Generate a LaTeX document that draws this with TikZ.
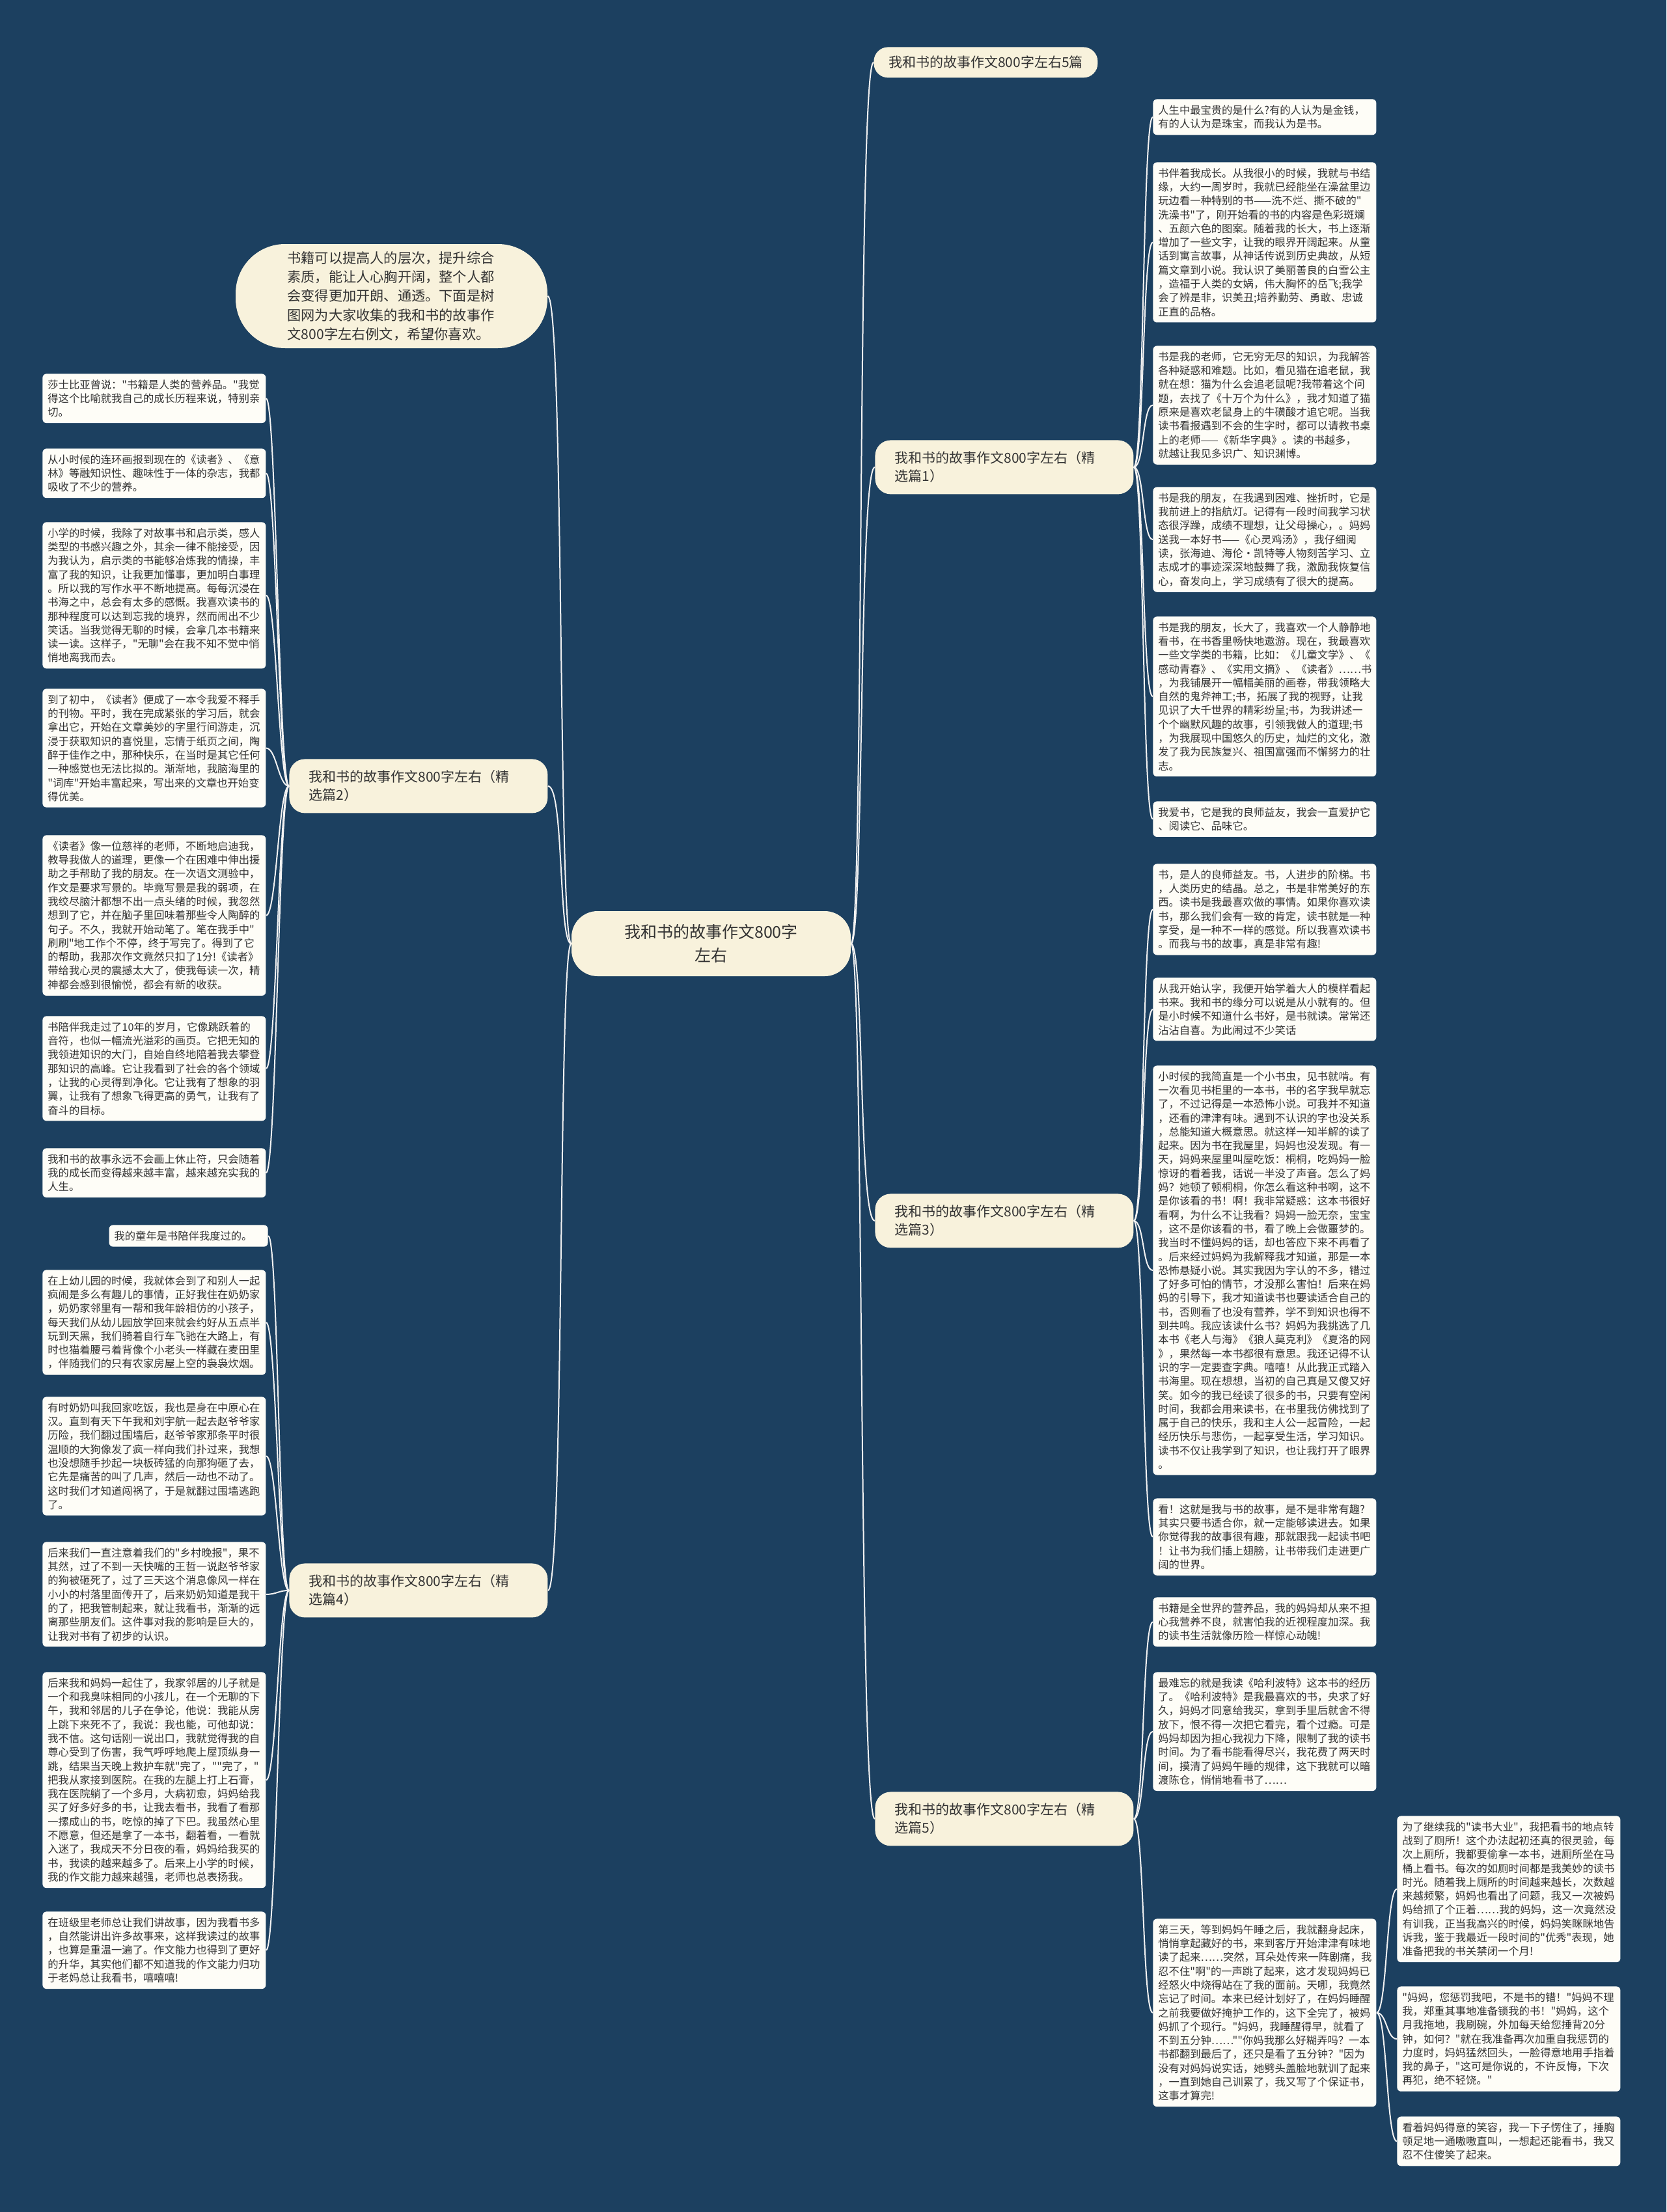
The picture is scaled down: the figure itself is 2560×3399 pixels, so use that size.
\documentclass[tikz,border=0pt]{standalone}
\usepackage{fontspec}
\newfontfamily\cjk{Noto Sans CJK SC}
\definecolor{bg}{HTML}{1C4060}
\definecolor{leafc}{HTML}{FEFDF7}
\definecolor{titlec}{HTML}{F8F2DC}
\definecolor{txt}{HTML}{333333}
\definecolor{linec}{HTML}{F2F2F2}
\tikzset{
  leaf/.style={fill=leafc, rounded corners=3pt, anchor=north west, text width=163.5pt,
    inner xsep=4pt, inner ysep=4.5pt, align=left, text=txt,
    font=\cjk\fontsize{8.15pt}{10.65pt}\selectfont},
  ttl/.style={fill=titlec, rounded corners=12pt, anchor=north west, text width=168.5pt,
    inner xsep=15pt, minimum height=41.5pt, align=left, text=txt,
    font=\cjk\fontsize{10.5pt}{14pt}\selectfont},
  conn/.style={draw=linec, line width=1pt},
}
\begin{document}
\begin{tikzpicture}[x=0.5pt,y=-0.5pt]
\fill[bg] (0,0) rectangle (2560,3399);
\useasboundingbox (0,0) rectangle (2560,3399);

% root, intro, titles
\node[fill=titlec, rounded corners=20pt, minimum width=214.5pt, minimum height=50pt, align=center,
  text=txt, font=\cjk\fontsize{12.5pt}{18.4pt}\selectfont] (root) at (1092.5,1450)
  {我和书的故事作文800字\\左右};
\node[fill=titlec, rounded corners=38pt, text width=160pt, inner xsep=39.75pt, minimum height=80pt,
  align=left, text=txt, font=\cjk\fontsize{10.6pt}{14.6pt}\selectfont] (intro) at (601.5,455)
  {书籍可以提高人的层次，提升综合\\素质，能让人心胸开阔，整个人都\\会变得更加开朗、通透。下面是树\\图网为大家收集的我和书的故事作\\文800字左右例文，希望你喜欢。};
\node[fill=titlec, rounded corners=11pt, anchor=north west, minimum width=172pt, minimum height=23.5pt,
  inner xsep=6pt, text=txt, font=\cjk\fontsize{10.5pt}{14pt}\selectfont] (t0) at (1342,72)
  {我和书的故事作文800字左右5篇};
\node[ttl] (t1) at (1344,676) {我和书的故事作文800字左右（精\\选篇1）};
\node[ttl] (t2) at (444,1166) {我和书的故事作文800字左右（精\\选篇2）};
\node[ttl] (t3) at (1344,1834) {我和书的故事作文800字左右（精\\选篇3）};
\node[ttl] (t4) at (444,2402) {我和书的故事作文800字左右（精\\选篇4）};
\node[ttl] (t5) at (1344,2753) {我和书的故事作文800字左右（精\\选篇5）};

% section 1 leaves
\node[leaf] (r1a) at (1771,152) {人生中最宝贵的是什么?有的人认为是金钱，\\有的人认为是珠宝，而我认为是书。};
\node[leaf] (r1b) at (1771,249) {书伴着我成长。从我很小的时候，我就与书结\\缘，大约一周岁时，我就已经能坐在澡盆里边\\玩边看一种特别的书——洗不烂、撕不破的"\\洗澡书"了，刚开始看的书的内容是色彩斑斓\\、五颜六色的图案。随着我的长大，书上逐渐\\增加了一些文字，让我的眼界开阔起来。从童\\话到寓言故事，从神话传说到历史典故，从短\\篇文章到小说。我认识了美丽善良的白雪公主\\，造福于人类的女娲，伟大胸怀的岳飞;我学\\会了辨是非，识美丑;培养勤劳、勇敢、忠诚\\正直的品格。};
\node[leaf] (r1c) at (1771,531) {书是我的老师，它无穷无尽的知识，为我解答\\各种疑惑和难题。比如，看见猫在追老鼠，我\\就在想：猫为什么会追老鼠呢?我带着这个问\\题，去找了《十万个为什么》，我才知道了猫\\原来是喜欢老鼠身上的牛磺酸才追它呢。当我\\读书看报遇到不会的生字时，都可以请教书桌\\上的老师——《新华字典》。读的书越多，\\就越让我见多识广、知识渊博。};
\node[leaf] (r1d) at (1771,748) {书是我的朋友，在我遇到困难、挫折时，它是\\我前进上的指航灯。记得有一段时间我学习状\\态很浮躁，成绩不理想，让父母操心，。妈妈\\送我一本好书——《心灵鸡汤》，我仔细阅\\读，张海迪、海伦·凯特等人物刻苦学习、立\\志成才的事迹深深地鼓舞了我，激励我恢复信\\心，奋发向上，学习成绩有了很大的提高。};
\node[leaf] (r1e) at (1771,947) {书是我的朋友，长大了，我喜欢一个人静静地\\看书，在书香里畅快地遨游。现在，我最喜欢\\一些文学类的书籍，比如：《儿童文学》、《\\感动青春》、《实用文摘》、《读者》……书\\，为我铺展开一幅幅美丽的画卷，带我领略大\\自然的鬼斧神工;书，拓展了我的视野，让我\\见识了大千世界的精彩纷呈;书，为我讲述一\\个个幽默风趣的故事，引领我做人的道理;书\\，为我展现中国悠久的历史，灿烂的文化，激\\发了我为民族复兴、祖国富强而不懈努力的壮\\志。};
\node[leaf] (r1f) at (1771,1231) {我爱书，它是我的良师益友，我会一直爱护它\\、阅读它、品味它。};

% section 3 leaves
\node[leaf] (r3a) at (1771,1327) {书，是人的良师益友。书，人进步的阶梯。书\\，人类历史的结晶。总之，书是非常美好的东\\西。读书是我最喜欢做的事情。如果你喜欢读\\书，那么我们会有一致的肯定，读书就是一种\\享受，是一种不一样的感觉。所以我喜欢读书\\。而我与书的故事，真是非常有趣!};
\node[leaf] (r3b) at (1771,1502) {从我开始认字，我便开始学着大人的模样看起\\书来。我和书的缘分可以说是从小就有的。但\\是小时候不知道什么书好，是书就读。常常还\\沾沾自喜。为此闹过不少笑话};
\node[leaf] (r3c) at (1771,1637) {小时候的我简直是一个小书虫，见书就啃。有\\一次看见书柜里的一本书，书的名字我早就忘\\了，不过记得是一本恐怖小说。可我并不知道\\，还看的津津有味。遇到不认识的字也没关系\\，总能知道大概意思。就这样一知半解的读了\\起来。因为书在我屋里，妈妈也没发现。有一\\天，妈妈来屋里叫屋吃饭：桐桐，吃妈妈一脸\\惊讶的看着我，话说一半没了声音。怎么了妈\\妈？她顿了顿桐桐，你怎么看这种书啊，这不\\是你该看的书！啊！我非常疑惑：这本书很好\\看啊，为什么不让我看？妈妈一脸无奈，宝宝\\，这不是你该看的书，看了晚上会做噩梦的。\\我当时不懂妈妈的话，却也答应下来不再看了\\。后来经过妈妈为我解释我才知道，那是一本\\恐怖悬疑小说。其实我因为字认的不多，错过\\了好多可怕的情节，才没那么害怕！后来在妈\\妈的引导下，我才知道读书也要读适合自己的\\书，否则看了也没有营养，学不到知识也得不\\到共鸣。我应该读什么书？妈妈为我挑选了几\\本书《老人与海》《狼人莫克利》《夏洛的网\\》，果然每一本书都很有意思。我还记得不认\\识的字一定要查字典。嘻嘻！从此我正式踏入\\书海里。现在想想，当初的自己真是又傻又好\\笑。如今的我已经读了很多的书，只要有空闲\\时间，我都会用来读书，在书里我仿佛找到了\\属于自己的快乐，我和主人公一起冒险，一起\\经历快乐与悲伤，一起享受生活，学习知识。\\读书不仅让我学到了知识，也让我打开了眼界\\。};
\node[leaf] (r3d) at (1771,2302) {看！这就是我与书的故事，是不是非常有趣?\\其实只要书适合你，就一定能够读进去。如果\\你觉得我的故事很有趣，那就跟我一起读书吧\\！让书为我们插上翅膀，让书带我们走进更广\\阔的世界。};

% section 5 leaves
\node[leaf] (r5a) at (1771,2454) {书籍是全世界的营养品，我的妈妈却从来不担\\心我营养不良，就害怕我的近视程度加深。我\\的读书生活就像历险一样惊心动魄!};
\node[leaf] (r5b) at (1771,2569) {最难忘的就是我读《哈利波特》这本书的经历\\了。《哈利波特》是我最喜欢的书，央求了好\\久，妈妈才同意给我买，拿到手里后就舍不得\\放下，恨不得一次把它看完，看个过瘾。可是\\妈妈却因为担心我视力下降，限制了我的读书\\时间。为了看书能看得尽兴，我花费了两天时\\间，摸清了妈妈午睡的规律，这下我就可以暗\\渡陈仓，悄悄地看书了……};
\node[leaf] (r5c) at (1771,2948) {第三天，等到妈妈午睡之后，我就翻身起床，\\悄悄拿起藏好的书，来到客厅开始津津有味地\\读了起来……突然，耳朵处传来一阵剧痛，我\\忍不住"啊"的一声跳了起来，这才发现妈妈已\\经怒火中烧得站在了我的面前。天哪，我竟然\\忘记了时间。本来已经计划好了，在妈妈睡醒\\之前我要做好掩护工作的，这下全完了，被妈\\妈抓了个现行。"妈妈，我睡醒得早，就看了\\不到五分钟……""你妈我那么好糊弄吗？一本\\书都翻到最后了，还只是看了五分钟？"因为\\没有对妈妈说实话，她劈头盖脸地就训了起来\\，一直到她自己训累了，我又写了个保证书，\\这事才算完!};
\node[leaf] (f1) at (2146,2790) {为了继续我的"读书大业"，我把看书的地点转\\战到了厕所！这个办法起初还真的很灵验，每\\次上厕所，我都要偷拿一本书，进厕所坐在马\\桶上看书。每次的如厕时间都是我美妙的读书\\时光。随着我上厕所的时间越来越长，次数越\\来越频繁，妈妈也看出了问题，我又一次被妈\\妈给抓了个正着……我的妈妈，这一次竟然没\\有训我，正当我高兴的时候，妈妈笑眯眯地告\\诉我，鉴于我最近一段时间的"优秀"表现，她\\准备把我的书关禁闭一个月!};
\node[leaf] (f2) at (2146,3052) {"妈妈，您惩罚我吧，不是书的错！"妈妈不理\\我，郑重其事地准备锁我的书！"妈妈，这个\\月我拖地，我刷碗，外加每天给您捶背20分\\钟，如何？"就在我准备再次加重自我惩罚的\\力度时，妈妈猛然回头，一脸得意地用手指着\\我的鼻子，"这可是你说的，不许反悔，下次\\再犯，绝不轻饶。"};
\node[leaf] (f3) at (2146,3252) {看着妈妈得意的笑容，我一下子愣住了，捶胸\\顿足地一通嗷嗷直叫，一想起还能看书，我又\\忍不住傻笑了起来。};

% section 2 leaves
\node[leaf] (l2a) at (65,574) {莎士比亚曾说："书籍是人类的营养品。"我觉\\得这个比喻就我自己的成长历程来说，特别亲\\切。};
\node[leaf] (l2b) at (65,689) {从小时候的连环画报到现在的《读者》、《意\\林》等融知识性、趣味性于一体的杂志，我都\\吸收了不少的营养。};
\node[leaf] (l2c) at (65,802) {小学的时候，我除了对故事书和启示类，感人\\类型的书感兴趣之外，其余一律不能接受，因\\为我认为，启示类的书能够冶炼我的情操，丰\\富了我的知识，让我更加懂事，更加明白事理\\。所以我的写作水平不断地提高。每每沉浸在\\书海之中，总会有太多的感慨。我喜欢读书的\\那种程度可以达到忘我的境界，然而闹出不少\\笑话。当我觉得无聊的时候，会拿几本书籍来\\读一读。这样子，"无聊"会在我不知不觉中悄\\悄地离我而去。};
\node[leaf] (l2d) at (65,1058) {到了初中，《读者》便成了一本令我爱不释手\\的刊物。平时，我在完成紧张的学习后，就会\\拿出它，开始在文章美妙的字里行间游走，沉\\浸于获取知识的喜悦里，忘情于纸页之间，陶\\醉于佳作之中，那种快乐，在当时是其它任何\\一种感觉也无法比拟的。渐渐地，我脑海里的\\"词库"开始丰富起来，写出来的文章也开始变\\得优美。};
\node[leaf] (l2e) at (65,1283) {《读者》像一位慈祥的老师，不断地启迪我，\\教导我做人的道理，更像一个在困难中伸出援\\助之手帮助了我的朋友。在一次语文测验中，\\作文是要求写景的。毕竟写景是我的弱项，在\\我绞尽脑汁都想不出一点头绪的时候，我忽然\\想到了它，并在脑子里回味着那些令人陶醉的\\句子。不久，我就开始动笔了。笔在我手中"\\刷刷"地工作个不停，终于写完了。得到了它\\的帮助，我那次作文竟然只扣了1分!《读者》\\带给我心灵的震撼太大了，使我每读一次，精\\神都会感到很愉悦，都会有新的收获。};
\node[leaf] (l2f) at (65,1561) {书陪伴我走过了10年的岁月，它像跳跃着的\\音符，也似一幅流光溢彩的画页。它把无知的\\我领进知识的大门，自始自终地陪着我去攀登\\那知识的高峰。它让我看到了社会的各个领域\\，让我的心灵得到净化。它让我有了想象的羽\\翼，让我有了想象飞得更高的勇气，让我有了\\奋斗的目标。};
\node[leaf] (l2g) at (65,1764) {我和书的故事永远不会画上休止符，只会随着\\我的成长而变得越来越丰富，越来越充实我的\\人生。};

% section 4 leaves
\node[leaf, anchor=north east, text width=114pt] (l4a) at (412,1882) {我的童年是书陪伴我度过的。};
\node[leaf] (l4b) at (65,1951) {在上幼儿园的时候，我就体会到了和别人一起\\疯闹是多么有趣儿的事情，正好我住在奶奶家\\，奶奶家邻里有一帮和我年龄相仿的小孩子，\\每天我们从幼儿园放学回来就会约好从五点半\\玩到天黑，我们骑着自行车飞驰在大路上，有\\时也猫着腰弓着背像个小老头一样藏在麦田里\\，伴随我们的只有农家房屋上空的袅袅炊烟。};
\node[leaf] (l4c) at (65,2146) {有时奶奶叫我回家吃饭，我也是身在中原心在\\汉。直到有天下午我和刘宇航一起去赵爷爷家\\历险，我们翻过围墙后，赵爷爷家那条平时很\\温顺的大狗像发了疯一样向我们扑过来，我想\\也没想随手抄起一块板砖猛的向那狗砸了去，\\它先是痛苦的叫了几声，然后一动也不动了。\\这时我们才知道闯祸了，于是就翻过围墙逃跑\\了。};
\node[leaf] (l4d) at (65,2369) {后来我们一直注意着我们的"乡村晚报"，果不\\其然，过了不到一天快嘴的王哲一说赵爷爷家\\的狗被砸死了，过了三天这个消息像风一样在\\小小的村落里面传开了，后来奶奶知道是我干\\的了，把我管制起来，就让我看书，渐渐的远\\离那些朋友们。这件事对我的影响是巨大的，\\让我对书有了初步的认识。};
\node[leaf] (l4e) at (65,2569) {后来我和妈妈一起住了，我家邻居的儿子就是\\一个和我臭味相同的小孩儿，在一个无聊的下\\午，我和邻居的儿子在争论，他说：我能从房\\上跳下来死不了，我说：我也能，可他却说：\\我不信。这句话刚一说出口，我就觉得我的自\\尊心受到了伤害，我气呼呼地爬上屋顶纵身一\\跳，结果当天晚上救护车就"完了，""完了，"\\把我从家接到医院。在我的左腿上打上石膏，\\我在医院躺了一个多月，大病初愈，妈妈给我\\买了好多好多的书，让我去看书，我看了看那\\一摞成山的书，吃惊的掉了下巴。我虽然心里\\不愿意，但还是拿了一本书，翻着看，一看就\\入迷了，我成天不分日夜的看，妈妈给我买的\\书，我读的越来越多了。后来上小学的时候，\\我的作文能力越来越强，老师也总表扬我。};
\node[leaf] (l4f) at (65,2937) {在班级里老师总让我们讲故事，因为我看书多\\，自然能讲出许多故事来，这样我读过的故事\\，也算是重温一遍了。作文能力也得到了更好\\的升华，其实他们都不知道我的作文能力归功\\于老妈总让我看书，嘻嘻嘻!};

% connectors: root to titles
\foreach \t in {t0,t1,t3,t5}
  \draw[conn] (root.east) .. controls +(20,0) and +(-25,0) .. (\t.west);
\foreach \t in {intro,t2,t4}
  \draw[conn] (root.west) .. controls +(-20,0) and +(25,0) .. (\t.east);
% titles to leaves
\foreach \l in {r1a,r1b,r1c,r1d,r1e,r1f}
  \draw[conn] (t1.east) .. controls +(16,0) and +(-16,0) .. (\l.west);
\foreach \l in {r3a,r3b,r3c,r3d}
  \draw[conn] (t3.east) .. controls +(16,0) and +(-16,0) .. (\l.west);
\foreach \l in {r5a,r5b,r5c}
  \draw[conn] (t5.east) .. controls +(16,0) and +(-16,0) .. (\l.west);
\foreach \l in {f1,f2,f3}
  \draw[conn] (r5c.east) .. controls +(16,0) and +(-16,0) .. (\l.west);
\foreach \l in {l2a,l2b,l2c,l2d,l2e,l2f,l2g}
  \draw[conn] (t2.west) .. controls +(-16,0) and +(16,0) .. (\l.east);
\foreach \l in {l4a,l4b,l4c,l4d,l4e,l4f}
  \draw[conn] (t4.west) .. controls +(-16,0) and +(16,0) .. (\l.east);
\end{tikzpicture}
\end{document}
